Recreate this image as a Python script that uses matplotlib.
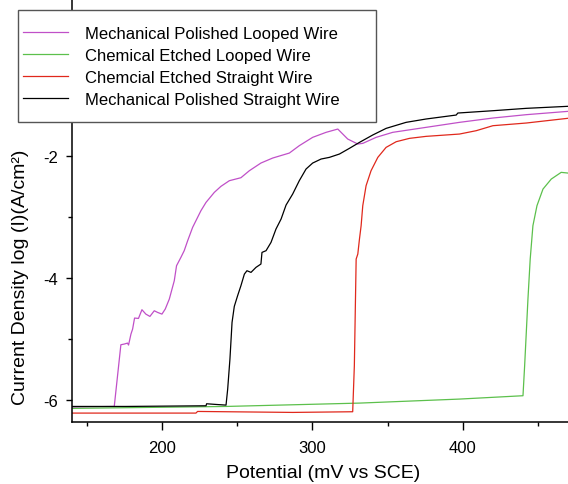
import numpy as np
import matplotlib.pyplot as plt
from matplotlib.patches import Rectangle
from matplotlib.ticker import MultipleLocator

plt.rcParams['font.family'] = ['Liberation Sans', 'DejaVu Sans']
plt.rcParams['axes.unicode_minus'] = False

# potential (mV vs SCE) and log current density
mp_loop_x = [139.4, 168.3, 172.7, 174.9, 177.1, 177.8, 179.4, 180.5, 181.8, 184.4, 186.7,
             189.3, 192.0, 194.9, 197.1, 200.0, 202.2, 204.9, 206.4, 208.2, 209.7, 212.6,
             214.8, 217.1, 220.4, 225.9, 229.3, 234.8, 239.2, 244.8, 252.5, 258.1, 265.8,
             273.6, 284.7, 291.3, 300.2, 309.1, 316.9, 323.5, 330.2, 333.5, 342.4, 353.4,
             375.6, 397.8, 420.0, 442.2, 469.7]
mp_loop_y = [-6.117, -6.106, -5.093, -5.082, -5.066, -5.098, -4.918, -4.836, -4.655, -4.661,
             -4.518, -4.590, -4.628, -4.535, -4.562, -4.590, -4.507, -4.343, -4.206, -4.042,
             -3.796, -3.659, -3.549, -3.385, -3.166, -2.893, -2.756, -2.592, -2.493, -2.400,
             -2.351, -2.236, -2.110, -2.028, -1.946, -1.825, -1.688, -1.606, -1.552, -1.716,
             -1.798, -1.787, -1.688, -1.606, -1.524, -1.442, -1.371, -1.316, -1.262]

ce_loop_x = [139.4, 242.6, 331.3, 397.8, 440.0, 441.1, 443.3, 444.8, 446.6, 449.3, 453.3,
             458.8, 465.4, 469.7]
ce_loop_y = [-6.138, -6.106, -6.051, -5.985, -5.930, -5.438, -4.343, -3.686, -3.139, -2.810,
             -2.537, -2.373, -2.263, -2.274]

ce_str_x = [139.4, 222.6, 223.7, 286.9, 326.8, 327.9, 329.1, 330.2, 331.3, 332.4, 333.5,
            335.7, 339.0, 343.5, 349.0, 355.7, 364.5, 375.6, 397.8, 408.9, 420.0, 442.2, 469.7]
ce_str_y = [-6.215, -6.215, -6.188, -6.204, -6.193, -5.438, -3.686, -3.604, -3.358, -3.139,
            -2.810, -2.482, -2.236, -2.017, -1.853, -1.760, -1.705, -1.672, -1.634, -1.579,
            -1.497, -1.453, -1.376]

mp_str_x = [139.4, 176.0, 229.3, 229.7, 235.9, 242.6, 243.7, 245.2, 246.6, 248.1, 250.3,
            252.5, 254.8, 256.5, 259.2, 262.5, 265.8, 266.5, 269.2, 272.5, 275.8, 279.2,
            282.5, 286.9, 291.3, 295.8, 300.2, 305.8, 311.3, 318.0, 324.6, 331.3, 340.1,
            349.0, 362.3, 375.6, 395.6, 396.7, 420.0, 442.2, 469.7]
mp_str_y = [-6.106, -6.106, -6.095, -6.062, -6.073, -6.084, -5.821, -5.328, -4.726, -4.463,
            -4.288, -4.124, -3.933, -3.878, -3.905, -3.823, -3.768, -3.577, -3.549, -3.413,
            -3.194, -3.029, -2.800, -2.619, -2.400, -2.208, -2.110, -2.044, -2.017, -1.962,
            -1.869, -1.771, -1.650, -1.541, -1.442, -1.387, -1.322, -1.289, -1.251, -1.212,
            -1.179]

labels = ['Mechanical Polished Looped Wire', 'Chemical Etched Looped Wire',
          'Chemcial Etched Straight Wire', 'Mechanical Polished Straight Wire']
colors = ['#c050c8', '#5cc04c', '#e0281c', 'black']

fig = plt.figure(figsize=(5.68, 4.85), dpi=100)
ax = fig.add_axes([0.1262, 0.1285, 0.874, 0.8715])

series = [(mp_loop_x, mp_loop_y), (ce_loop_x, ce_loop_y), (ce_str_x, ce_str_y), (mp_str_x, mp_str_y)]
handles = []
for (xs, ys), lab, c in zip(series, labels, colors):
    h, = ax.plot(xs, ys, color=c, lw=0.9, label=lab)
    handles.append(h)

ax.set_xlim(140, 470)
ax.set_ylim(-6.356, 0.583)
ax.xaxis.set_major_locator(MultipleLocator(100))
ax.xaxis.set_minor_locator(MultipleLocator(50))
ax.set_yticks([-6, -4, -2])
ax.set_yticks([-5, -3], minor=True)
ax.tick_params(which='major', length=5.5, width=1, labelsize=12, direction='out')
ax.tick_params(which='minor', length=3, width=1, direction='out')
ax.tick_params(axis='x', which='major', pad=7.5)
ax.tick_params(axis='y', which='major', length=4.6, pad=5.5)
for s in ['top', 'right']:
    ax.spines[s].set_visible(False)
for s in ['left', 'bottom']:
    ax.spines[s].set_linewidth(1.1)

ax.set_xlabel('Potential (mV vs SCE)', fontsize=14)
ax.set_ylabel('Current Density log (I)(A/cm²)', fontsize=14)
ax.xaxis.set_label_coords(0.506, -0.121)
ax.xaxis.label.set_va('center')
ax.yaxis.set_label_coords(-0.104, 0.345)
ax.yaxis.label.set_va('center')

fig.patches.append(Rectangle((18.3 / 568, 1 - 122.7 / 485), (376 - 18.3) / 568, (122.7 - 10.7) / 485,
                             transform=fig.transFigure, facecolor='white', edgecolor='#555555',
                             lw=1, zorder=5))
leg = fig.legend(handles=handles, loc='upper left', bbox_to_anchor=(23 / 568, 1 - 26.5 / 485),
                 frameon=False, fontsize=12, borderpad=0, borderaxespad=0, handlelength=2.7,
                 handletextpad=1.0, labelspacing=0.42)
leg.set_zorder(6)

fig.savefig('out.png', dpi=100)
